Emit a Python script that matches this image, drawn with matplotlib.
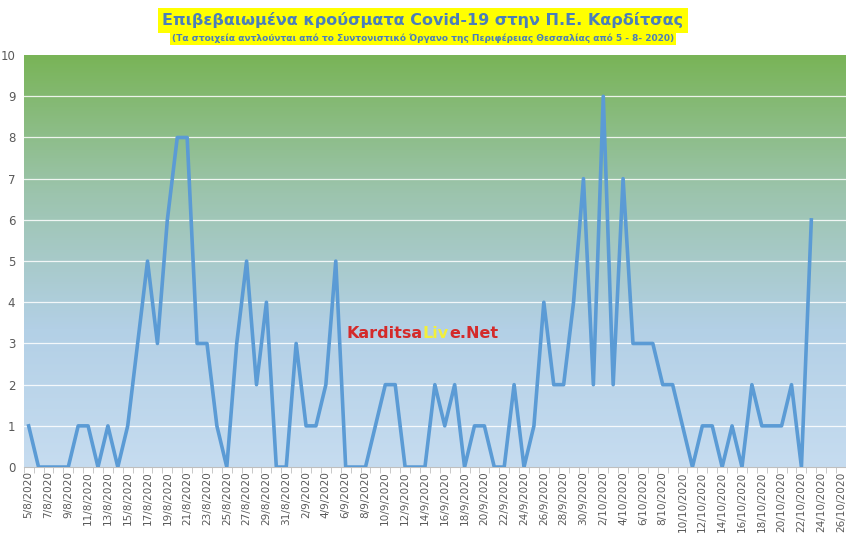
import datetime as dt

import matplotlib.pyplot as plt
import matplotlib.colors as mcolors
import numpy as np

start = dt.date(2020, 8, 5)
n_days = 83
dates = [start + dt.timedelta(days=i) for i in range(n_days)]
date_labels = [f"{d.day}/{d.month}/{d.year}" for d in dates]

cases = [1, 0, 0, 0, 0, 1, 1, 0, 1, 0, 1, 3, 5, 3, 6, 8, 8, 3, 3, 1,
         0, 3, 5, 2, 4, 0, 0, 3, 1, 1, 2, 5, 0, 0, 0, 1, 2, 2, 0, 0,
         0, 2, 1, 2, 0, 1, 1, 0, 0, 2, 0, 1, 4, 2, 2, 4, 7, 2, 9, 2,
         7, 3, 3, 3, 2, 2, 1, 0, 1, 1, 0, 1, 0, 2, 1, 1, 1, 2, 0, 6]

fig = plt.figure(figsize=(8.46, 5.35), dpi=100)
ax = fig.add_axes([0.028, 0.127, 0.972, 0.77])

cmap = mcolors.LinearSegmentedColormap.from_list(
    "bg", ["#c6dcf0", "#b3d0e6", "#9cc4ad", "#79b457"])
grad = np.linspace(0, 1, 256).reshape(-1, 1)
ax.imshow(grad, aspect="auto", cmap=cmap, origin="lower",
          extent=[-0.5, n_days - 0.5, 0, 10], zorder=0)

ax.plot(range(len(cases)), cases, color="#5b9bd5", lw=2.6, zorder=3)

ax.set_xlim(-0.5, n_days - 0.5)
ax.set_ylim(0, 10)
ax.set_yticks(range(0, 11))
for y in range(1, 10):
    ax.axhline(y, color="white", lw=0.9, alpha=0.85, zorder=1)
ax.set_xticks(range(0, n_days, 2))
ax.set_xticklabels(date_labels[::2], rotation=90, fontsize=7.6, color="#595959")
ax.set_xticks(np.arange(-0.5, n_days, 1), minor=True)
ax.tick_params(axis="x", which="major", length=0, pad=3)
ax.tick_params(axis="x", which="minor", length=4, color="#bfbfbf")
ax.tick_params(axis="y", length=0, labelsize=8.5, labelcolor="#595959", pad=6)
for s in ["top", "right", "left"]:
    ax.spines[s].set_visible(False)
ax.spines["bottom"].set_color("#bfbfbf")

fig.text(0.5, 0.962, "Επιβεβαιωμένα κρούσματα Covid-19 στην Π.Ε. Καρδίτσας",
         ha="center", va="center", fontsize=11.5, fontweight="bold", color="#4a7ebb",
         bbox=dict(boxstyle="square,pad=0.3", fc="#ffff00", ec="none"))
fig.text(0.5, 0.928, "(Τα στοιχεία αντλούνται από το Συντονιστικό Όργανο της Περιφέρειας Θεσσαλίας από 5 - 8- 2020)",
         ha="center", va="center", fontsize=6.5, fontweight="bold", color="#4a7ebb",
         bbox=dict(boxstyle="square,pad=0.2", fc="#ffff00", ec="none"))

t1 = ax.text(0.393, 0.325, "Karditsa", transform=ax.transAxes, fontsize=11.5,
             fontweight="bold", color="#d42a2a", va="center", zorder=4)
fig.canvas.draw()
t2 = ax.annotate("Liv", xycoords=t1, xy=(1, 0.5), va="center", fontsize=11.5,
                 fontweight="bold", color="#f2ef3a", zorder=4)
ax.annotate("e.Net", xycoords=t2, xy=(1, 0.5), va="center", fontsize=11.5,
            fontweight="bold", color="#d42a2a", zorder=4)

fig.savefig("out.png", dpi=100)
